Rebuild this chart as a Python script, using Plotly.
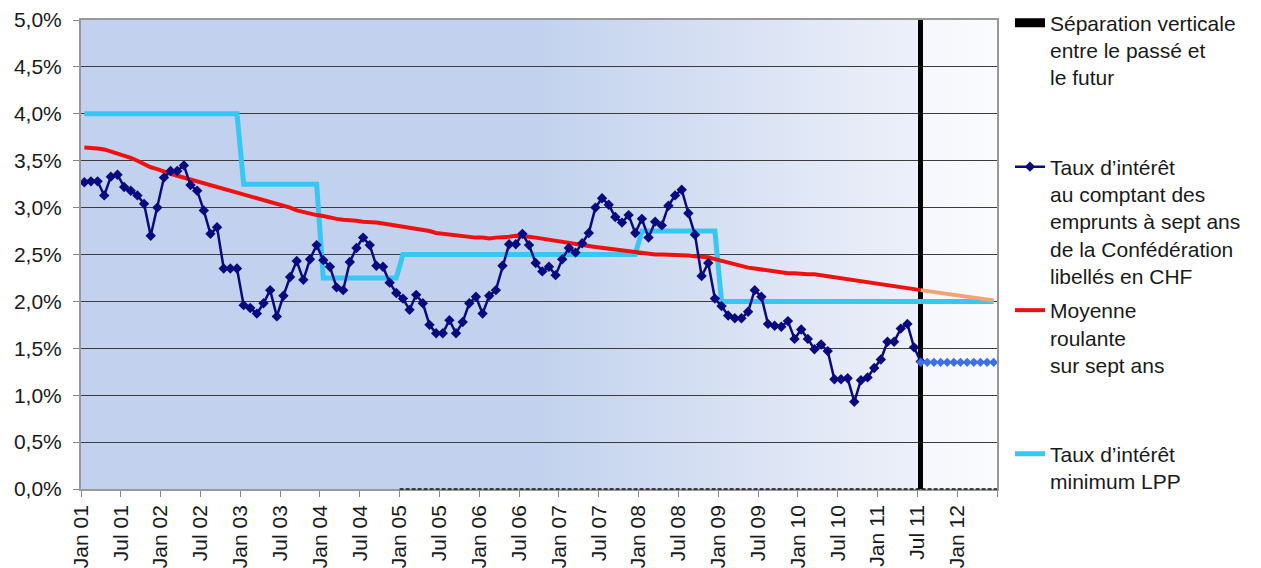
import base64
import plotly.graph_objects as go

# ---------------- data ----------------
month_names = ["Jan", "Feb", "Mar", "Apr", "May", "Jun", "Jul", "Aug", "Sep", "Oct", "Nov", "Dec"]
years = ["01", "02", "03", "04", "05", "06", "07", "08", "09", "10", "11", "12"]
months = [f"{m} {y}" for y in years for m in month_names][:138]   # Jan 01 .. Jun 12

# 7-year Confederation spot rate (%), Jan 01 .. Jul 11
spot_rate = [
    3.27, 3.28, 3.28, 3.13, 3.33, 3.35, 3.22, 3.18, 3.13, 3.04, 2.70, 3.00,
    3.32, 3.39, 3.39, 3.45, 3.24, 3.18, 2.97, 2.72, 2.79, 2.35, 2.35, 2.35,
    1.96, 1.93, 1.87, 1.98, 2.12, 1.84, 2.06, 2.26, 2.43, 2.23, 2.45, 2.60,
    2.44, 2.37, 2.15, 2.12, 2.42, 2.57, 2.68, 2.60, 2.38, 2.37, 2.20, 2.09,
    2.03, 1.91, 2.07, 1.98, 1.75, 1.66, 1.66, 1.80, 1.66, 1.78, 1.98, 2.05,
    1.87, 2.06, 2.12, 2.38, 2.61, 2.61, 2.72, 2.60, 2.41, 2.32, 2.37, 2.28,
    2.45, 2.57, 2.52, 2.62, 2.73, 3.00, 3.10, 3.03, 2.90, 2.84, 2.92, 2.73,
    2.88, 2.68, 2.85, 2.81, 3.02, 3.13, 3.19, 2.94, 2.71, 2.27, 2.41, 2.03,
    1.95, 1.85, 1.82, 1.82, 1.89, 2.12, 2.05, 1.76, 1.74, 1.73, 1.79, 1.60,
    1.70, 1.60, 1.49, 1.54, 1.47, 1.17, 1.17, 1.18, 0.93, 1.16, 1.19, 1.29,
    1.38, 1.57, 1.57, 1.71, 1.76, 1.51, 1.36,
]
# projected spot rate, Jul 11 .. Jun 12
spot_future = [1.35, 1.35, 1.35, 1.35, 1.35, 1.35, 1.35, 1.35, 1.35, 1.35, 1.35, 1.35]

# seven-year rolling mean (%), Jan 01 .. Jul 11
rolling_mean = [
    3.64, 3.64, 3.63, 3.62, 3.60, 3.58, 3.56, 3.53, 3.50, 3.46, 3.43, 3.41,
    3.38, 3.36, 3.34, 3.32, 3.30, 3.28, 3.26, 3.24, 3.22, 3.20, 3.19, 3.17,
    3.15, 3.13, 3.11, 3.09, 3.07, 3.05, 3.02, 3.00, 2.97, 2.95, 2.94, 2.92,
    2.91, 2.89, 2.88, 2.87, 2.87, 2.86, 2.85, 2.85, 2.84, 2.83, 2.82, 2.80,
    2.79, 2.78, 2.77, 2.76, 2.75, 2.73, 2.72, 2.71, 2.70, 2.69, 2.68, 2.68,
    2.68, 2.67, 2.68, 2.68, 2.69, 2.70, 2.70, 2.69, 2.68, 2.67, 2.66, 2.65,
    2.64, 2.63, 2.61, 2.60, 2.59, 2.58, 2.57, 2.57, 2.56, 2.55, 2.54, 2.53,
    2.52, 2.51, 2.50, 2.50, 2.50, 2.50, 2.49, 2.49, 2.48, 2.48, 2.47, 2.45,
    2.43, 2.41, 2.39, 2.37, 2.36, 2.35, 2.34, 2.33, 2.31, 2.30, 2.30, 2.30,
    2.29, 2.29, 2.29, 2.28, 2.27, 2.26, 2.25, 2.24, 2.22, 2.21, 2.20, 2.19,
    2.18, 2.17, 2.17, 2.16, 2.15, 2.13, 2.12,
]
# projected rolling mean, Jul 11 .. Jun 12
rolling_future = [2.12, 2.11, 2.10, 2.09, 2.08, 2.07, 2.06, 2.05, 2.04, 2.03, 2.02, 2.01]

# BVG/LPP minimum rate: month it took effect and rate (%)
lpp_start = ["Jan 01", "Jan 03", "Jan 04", "Jan 05", "Jan 08", "Jan 09"]
lpp_rate = [4.0, 3.25, 2.25, 2.5, 2.75, 2.0]

separator_month = "Jul 11"
separator_height = 5.0
dashed_from = "Jan 05"

y_tick_vals = [0, 0.5, 1.0, 1.5, 2.0, 2.5, 3.0, 3.5, 4.0, 4.5, 5.0]
y_tick_text = ["0,0%", "0,5%", "1,0%", "1,5%", "2,0%", "2,5%", "3,0%", "3,5%", "4,0%", "4,5%", "5,0%"]

# ---------------- derived positions ----------------
pos = {m: i for i, m in enumerate(months)}
x_all = [i + 0.5 for i in range(len(months))]
x_past = x_all[:len(spot_rate)]
fut_start = pos[separator_month]
x_future = x_all[fut_start:fut_start + len(spot_future)]

lpp_series = []
for i, m in enumerate(months):
    r = None
    for s, v in zip(lpp_start, lpp_rate):
        if pos[s] <= i:
            r = v
    lpp_series.append(r)

x_tick_vals = list(range(0, len(months) + 1, 6))
x_tick_text = [months[i] if i < len(months) else "" for i in x_tick_vals]

FONT = "Liberation Sans, Arial, sans-serif"
TXT = "#1a1a1a"

fig = go.Figure()

# background gradient
svg = ("<svg xmlns='http://www.w3.org/2000/svg' width='1000' height='100' preserveAspectRatio='none'>"
       "<defs><linearGradient id='g' x1='0' x2='1' y1='0' y2='0'>"
       "<stop offset='0' stop-color='#C1D1EE'/>"
       "<stop offset='0.5' stop-color='#C2D2EE'/>"
       "<stop offset='0.915' stop-color='#EDF0F9'/>"
       "<stop offset='0.918' stop-color='#F6F7FC'/>"
       "<stop offset='1' stop-color='#FAFBFE'/>"
       "</linearGradient></defs><rect width='1000' height='100' fill='url(#g)'/></svg>")
src = "data:image/svg+xml;base64," + base64.b64encode(svg.encode()).decode()
fig.add_layout_image(dict(source=src, xref="x", yref="y", x=0, y=5, sizex=len(months), sizey=5,
                          sizing="stretch", layer="below", xanchor="left", yanchor="top"))

# separator bar
fig.add_trace(go.Bar(x=[pos[separator_month] + 0.5], y=[separator_height], width=0.75,
                     marker=dict(color="black", line=dict(width=0)), showlegend=False,
                     hoverinfo="skip"))
# legend proxy for the separator
fig.add_trace(go.Scatter(x=[None], y=[None], mode="lines", line=dict(color="black", width=9),
                         name="Séparation verticale<br>entre le passé et<br>le futur", legend="legend"))

# LPP minimum
fig.add_trace(go.Scatter(x=x_all, y=lpp_series, mode="lines", line=dict(color="#38C6F4", width=5),
                         name="Taux d’intérêt<br>minimum LPP", legend="legend4"))
# rolling mean
fig.add_trace(go.Scatter(x=x_past, y=rolling_mean, mode="lines", line=dict(color="#F01010", width=4),
                         name="Moyenne<br>roulante<br>sur sept ans", legend="legend3"))
fig.add_trace(go.Scatter(x=x_future, y=rolling_future, mode="lines", line=dict(color="#F4A272", width=4),
                         showlegend=False))
# spot rate
fig.add_trace(go.Scatter(x=x_past, y=spot_rate, mode="lines+markers",
                         line=dict(color="#0A0A80", width=2.5),
                         marker=dict(symbol="diamond", size=8, color="#0A0A80"),
                         name="Taux d’intérêt<br>au comptant des<br>emprunts à sept ans<br>de la Confédération<br>libellés en CHF",
                         legend="legend2"))
fig.add_trace(go.Scatter(x=x_future, y=spot_future, mode="lines+markers",
                         line=dict(color="#3F6FE6", width=2),
                         marker=dict(symbol="diamond", size=7, color="#3F6FE6"),
                         showlegend=False))

# dashed baseline from Jan 05
fig.add_shape(type="line", x0=pos[dashed_from], x1=len(months), y0=0, y1=0, xref="x", yref="paper",
              line=dict(color="#111111", width=1.5, dash="4px,2px"), layer="above")

def leg(top_px):
    return dict(x=(1010 - 81) / 916, y=1 - (top_px - 20) / 469, xanchor="left", yanchor="top",
                bgcolor="rgba(0,0,0,0)", borderwidth=0, itemwidth=30, valign="top",
                font=dict(family=FONT, size=21, color=TXT), tracegroupgap=0)

fig.update_layout(
    width=1261, height=568,
    margin=dict(l=81, r=264, t=20, b=79, autoexpand=False),
    paper_bgcolor="white", plot_bgcolor="rgba(0,0,0,0)",
    font=dict(family=FONT, size=21, color=TXT),
    bargap=0,
    legend=leg(2.5), legend2=leg(146.5), legend3=leg(290), legend4=leg(433.5),
    xaxis=dict(range=[0, len(months)], tickmode="array", tickvals=x_tick_vals, ticktext=x_tick_text,
               tickangle=-90, ticks="outside", ticklen=6, tickcolor="#888", showgrid=False,
               showline=True, linecolor="#999", linewidth=1.5, mirror=True, zeroline=False,
               automargin=False, tickfont=dict(family=FONT, size=21, color=TXT)),
    yaxis=dict(range=[0, 5], tickmode="array", tickvals=y_tick_vals, ticktext=y_tick_text,
               ticks="outside", ticklen=6, tickcolor="#888", showgrid=True, gridcolor="#3c3c3c",
               gridwidth=1, showline=True, linecolor="#999", linewidth=2, mirror=True,
               zeroline=False, automargin=False, ticklabelstandoff=7,
               tickfont=dict(family=FONT, size=21, color=TXT)),
)

fig.write_html("out.html")
